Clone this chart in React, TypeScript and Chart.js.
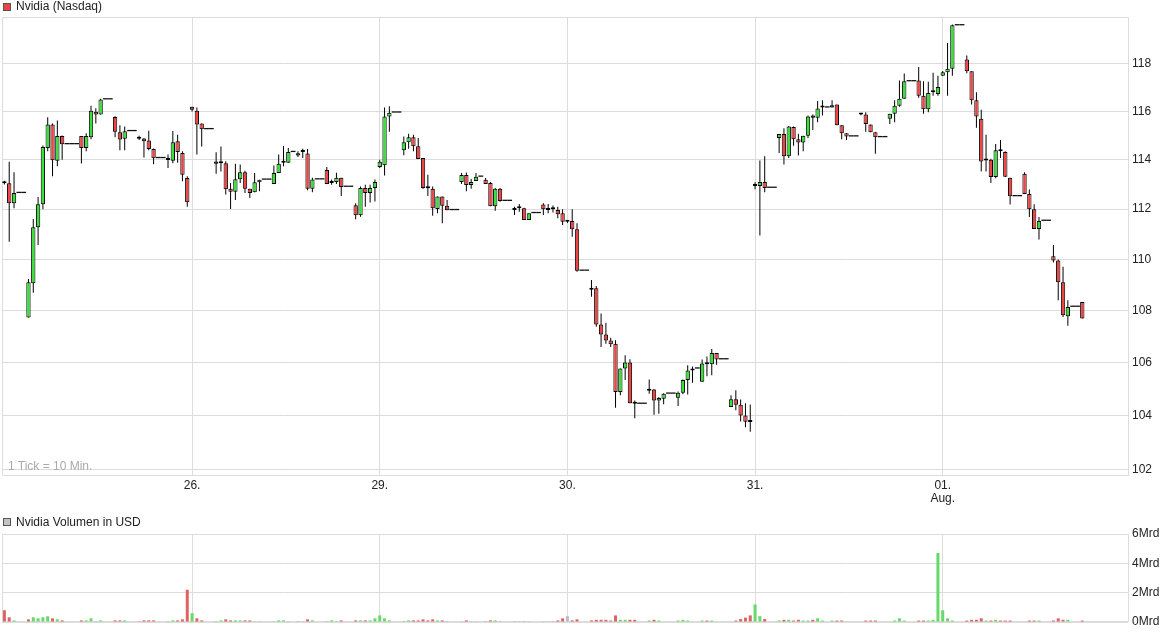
import React, { useEffect, useRef } from 'react';
import { Chart, registerables } from 'chart.js';

Chart.register(...registerables);

// ---------- data ----------
const dayNames = ['25.', '26.', '29.', '30.', '31.', '01.'];
const monthMarks = ['', '', '', '', '', 'Aug.'];
const ticksPerDay = 39; // 10-minute ticks per session

const openP = [
  113.05,113.05,112.24,112.65,112.65,107.73,109.06,111.28,112.2,114.49,
  115.46,113.96,114.98,114.64,114.64,114.64,114.98,114.49,114.93,115.99,
  115.87,116.5,116.5,115.77,115.14,114.87,115.18,115.18,114.87,114.88,
  114.8,114.45,114.07,114.07,114.0,113.96,114.76,114.28,113.26,116.2,
  116.03,115.5,115.26,115.26,113.93,113.86,113.86,112.82,112.7,113.21,
  113.5,112.82,112.68,113.09,113.19,113.19,113.02,113.46,113.88,113.88,
  114.32,114.18,114.32,114.26,112.82,113.2,113.2,113.59,113.06,113.1,
  113.27,112.9,112.9,112.16,111.76,112.86,112.65,112.86,113.71,113.78,
  115.79,115.95,115.95,114.39,114.72,114.93,114.56,114.08,112.85,112.82,
  112.01,112.51,112.14,111.96,111.96,113.1,113.38,112.98,113.14,113.31,
  113.19,113.06,112.12,112.82,112.33,112.33,111.97,112.04,112.04,111.57,
  111.84,111.84,112.19,111.97,112.0,111.97,111.84,111.5,111.53,111.2,
  109.55,109.55,108.81,108.87,107.46,107.07,106.84,106.72,104.89,105.77,
  106.0,104.44,104.44,104.44,104.93,104.98,104.57,104.63,104.82,104.82,
  104.67,104.86,105.34,105.7,105.77,105.27,105.94,105.94,106.36,106.12,
  106.12,104.32,104.61,104.41,104.0,103.76,113.02,112.94,113.1,112.86,
  112.86,114.9,115.06,114.15,115.35,114.85,114.71,114.99,115.83,115.74,
  116.16,116.16,116.16,116.29,115.43,115.1,114.96,114.96,115.87,115.87,
  115.46,115.14,114.93,114.93,115.7,115.9,116.24,116.53,117.26,117.26,
  117.3,116.66,116.09,116.8,116.73,117.5,117.64,117.79,119.64,119.64,
  118.18,117.69,116.47,115.7,113.97,114.01,113.3,114.35,114.32,113.27,
  112.52,112.52,113.43,112.61,112.0,111.21,111.53,111.53,110.12,109.96,
  109.1,107.78,108.14,108.14,108.33,
];

const highP = [
  113.15,113.92,113.5,112.65,112.65,109.23,111.61,112.49,114.59,115.76,
  115.5,115.62,115.0,114.64,114.64,114.64,114.98,115.1,116.24,116.13,
  116.53,116.5,116.5,115.8,115.43,115.37,115.18,115.18,114.99,114.9,
  115.2,114.47,114.07,114.07,114.22,115.19,115.03,114.35,113.33,116.2,
  116.16,115.5,115.26,115.26,114.31,114.55,113.94,113.06,113.84,113.81,
  113.56,112.82,113.46,113.19,113.19,113.19,113.77,114.22,114.57,114.49,
  114.32,114.35,114.46,114.45,113.27,113.2,113.2,113.71,113.2,113.47,
  113.27,112.9,112.9,112.24,112.92,112.99,112.99,113.2,114.01,116.16,
  116.22,115.95,115.95,114.96,115.07,115.03,114.9,114.08,113.39,112.92,
  112.51,112.51,112.37,111.96,111.96,113.46,113.48,113.22,113.46,113.31,
  113.26,113.1,112.86,112.86,112.33,112.33,112.1,112.21,112.06,111.84,
  111.84,111.84,112.24,112.21,112.15,112.1,112.0,111.55,112.0,111.44,
  109.55,109.55,109.19,108.95,107.88,107.53,106.95,106.85,105.77,106.28,
  106.13,104.57,104.44,104.44,105.36,105.0,104.7,104.84,104.82,104.82,
  104.9,105.36,105.9,105.85,105.77,106.12,106.23,106.52,106.36,106.12,
  106.12,104.76,104.95,104.6,104.46,104.42,113.09,113.97,114.15,112.86,
  112.86,115.06,115.3,115.4,115.37,115.07,114.99,115.83,115.87,116.44,
  116.47,116.16,116.47,116.29,115.43,115.1,114.96,114.96,115.92,115.97,
  115.46,115.14,114.93,114.93,115.9,116.47,117.3,117.59,117.26,117.26,
  117.87,117.26,117.24,117.62,117.5,117.7,118.89,119.68,119.64,119.64,
  118.35,117.69,116.8,116.07,115.03,114.05,114.65,114.82,114.35,113.27,
  112.52,112.52,113.5,112.79,112.2,111.69,111.53,111.53,110.57,110.0,
  109.71,108.4,108.14,108.14,108.33,
];

const lowP = [
  113.0,110.7,112.04,112.65,112.65,107.73,108.69,110.57,112.0,114.35,
  113.33,113.74,114.01,114.64,114.64,114.64,113.85,114.35,114.85,115.5,
  115.87,116.5,116.5,114.93,114.39,114.39,115.18,115.18,114.82,114.1,
  114.4,113.82,114.07,114.07,113.67,113.86,113.88,113.13,112.1,116.0,
  114.22,114.55,115.26,115.26,113.43,113.53,112.59,112.01,112.37,113.06,
  112.65,112.45,112.68,112.72,113.19,113.19,113.02,113.46,113.74,113.88,
  114.32,114.12,114.08,112.76,112.68,113.2,113.2,113.02,112.99,113.02,
  112.53,112.9,112.9,111.6,111.7,112.1,112.27,112.31,113.67,113.36,
  115.16,115.95,115.95,114.19,114.46,114.35,114.04,112.82,112.53,111.74,
  111.84,111.44,111.96,111.96,111.96,113.02,112.72,112.82,113.14,113.31,
  113.02,112.12,111.94,112.3,112.33,112.33,111.77,111.9,111.57,111.57,
  111.84,111.84,111.77,111.84,111.87,111.64,111.37,111.45,110.9,109.51,
  109.55,109.55,108.53,107.37,106.59,106.72,106.59,104.29,104.76,105.34,
  104.46,103.9,104.44,104.44,104.82,104.03,104.07,104.43,104.82,104.82,
  104.36,104.8,104.79,105.23,105.77,105.27,105.48,105.52,105.92,106.12,
  106.12,104.32,104.2,103.78,103.57,103.4,112.8,110.95,112.68,112.86,
  112.86,114.28,113.81,114.08,114.58,114.18,114.35,114.9,115.23,115.55,
  115.83,116.16,116.16,115.43,114.85,114.82,114.96,114.96,115.84,115.16,
  115.14,114.25,114.93,114.93,115.48,115.55,116.2,116.53,117.26,117.26,
  116.57,115.9,115.97,116.66,116.66,117.5,116.66,117.5,119.64,119.64,
  117.6,116.29,115.32,113.53,113.53,113.06,113.25,114.08,113.3,112.19,
  112.52,112.52,112.61,111.69,111.21,110.79,111.53,111.53,109.88,108.4,
  107.75,107.41,108.14,108.14,107.69,
];

const closeP = [
  113.05,112.24,112.65,112.65,112.65,109.1,111.28,112.2,114.53,115.46,
  113.98,114.98,114.64,114.64,114.64,114.64,114.49,114.98,116.03,115.87,
  116.5,116.5,116.5,115.16,114.84,115.18,115.18,115.18,114.87,114.76,
  114.45,114.07,114.07,114.07,114.0,114.72,114.32,113.39,112.28,116.07,
  115.46,115.26,115.26,115.26,113.84,113.86,112.8,112.7,113.21,113.5,
  112.82,112.65,113.09,113.19,113.19,113.19,113.46,113.84,113.88,114.32,
  114.32,114.27,114.32,112.82,113.2,113.2,113.2,113.02,113.14,113.27,
  112.9,112.9,112.9,111.76,112.86,112.65,112.86,113.1,113.92,115.79,
  115.95,115.95,115.95,114.72,114.93,114.56,114.04,112.86,112.85,112.04,
  112.51,112.14,111.96,111.96,111.96,113.38,112.98,113.1,113.31,113.31,
  113.02,112.12,112.82,112.33,112.33,112.33,111.97,112.04,111.57,111.84,
  111.84,111.84,112.0,112.04,112.0,111.8,111.5,111.5,111.2,109.55,
  109.55,109.55,108.81,107.46,107.07,106.84,106.7,104.89,105.77,106.0,
  104.46,104.44,104.44,104.44,105.01,104.57,104.66,104.82,104.82,104.82,
  104.86,105.34,105.7,105.77,105.77,105.96,105.94,106.36,106.12,106.12,
  106.12,104.61,104.41,104.0,103.77,103.76,112.94,113.1,112.86,112.86,
  112.86,115.06,114.15,115.37,114.85,114.71,114.99,115.79,115.74,116.12,
  116.16,116.16,116.26,115.43,115.1,114.96,114.96,114.96,115.87,115.48,
  115.14,114.93,114.93,114.93,115.9,116.24,116.53,117.26,117.26,117.26,
  116.66,116.09,116.77,116.8,117.02,117.64,117.79,119.64,119.64,119.64,
  117.69,116.47,115.79,113.93,113.97,113.3,114.39,114.35,113.31,112.52,
  112.52,112.52,112.61,112.0,111.21,111.53,111.53,111.53,109.96,109.1,
  107.82,108.14,108.14,108.14,107.69,
];

// volume in Mrd USD
const volumeMrd = [
  0.80,0.32,0.11,0,0,0.18,0.32,0.25,0.32,0.39,
  0.25,0.18,0.11,0,0,0,0.11,0.11,0.25,0.05,
  0.11,0,0,0.11,0.11,0.11,0,0,0.05,0.11,
  0.11,0.11,0,0,0.05,0.11,0.11,0.18,2.2,0.6,
  0.25,0.11,0,0,0.05,0.11,0.18,0.11,0.11,0.11,
  0.11,0.11,0.05,0.05,0,0,0.05,0.11,0.11,0.05,
  0,0.05,0.05,0.18,0.11,0,0,0.05,0.11,0.05,
  0.11,0,0,0.11,0.11,0.11,0.11,0.25,0.45,0.25,
  0.11,0,0,0.05,0.11,0.11,0.11,0.18,0.11,0.18,
  0.11,0.11,0.05,0,0,0.05,0.11,0.05,0.05,0,
  0.05,0.11,0.11,0.05,0,0,0.05,0.05,0.05,0.05,
  0,0,0.05,0.05,0.05,0.11,0.25,0.4,0.11,0.18,
  0,0,0.11,0.15,0.15,0.15,0.1,0.45,0.15,0.15,
  0.15,0.15,0,0,0.1,0.15,0.1,0.03,0,0,
  0.1,0.15,0.1,0.03,0,0.1,0.1,0.1,0.03,0,
  0,0.03,0.1,0.2,0.3,0.45,1.2,0.4,0.2,0,
  0,0.1,0.15,0.15,0.1,0.15,0.1,0.1,0.15,0.25,
  0.1,0,0.1,0.1,0.1,0.03,0,0,0.03,0.1,
  0.1,0.1,0,0,0.03,0.1,0.25,0.1,0,0,
  0.1,0.1,0.1,0.15,4.7,0.8,0.25,0.1,0,0,
  0.1,0.15,0.15,0.25,0.1,0.1,0.15,0.1,0.1,0.1,
  0,0,0.03,0.1,0.1,0.1,0,0,0.1,0.25,
  0.15,0.15,0,0,0.1,
];

const priceTicks = [102, 104, 106, 108, 110, 112, 114, 116, 118];
const priceMin = 101.77;
const priceMax = 120;
const volumeTicks = [0, 2, 4, 6];

// ---------- styles ----------
const FONT = "'Liberation Sans', Arial, Helvetica, sans-serif";
const GRID = '#dcdcdc';
const TEXT = '#222222';
const UP = '#38e038';
const DOWN = '#f04444';
const VOL_UP = '#66d966';
const VOL_DOWN = '#e06262';
const VOL_EQ = '#bdbdbd';
const CLEAR = 'rgba(0,0,0,0)';

// ---------- derived ----------
const nCat = dayNames.length * ticksPerDay;
const xLabels: (string | string[])[] = Array.from({ length: nCat }, (_, i) => {
  const d = Math.floor(i / ticksPerDay);
  if (i % ticksPerDay !== 0 || d === 0) return '';
  return monthMarks[d] ? [dayNames[d], monthMarks[d]] : dayNames[d];
});
const isDayStart = (i: number) => i > 0 && i % ticksPerDay === 0;
const nData = closeP.length;
const isFlat = (i: number) =>
  openP[i] === highP[i] && highP[i] === lowP[i] && lowP[i] === closeP[i];

const bodyData = xLabels.map((_, i) => (i < nData && !isFlat(i) ? [openP[i], closeP[i]] : null));
const bodyColors = xLabels.map((_, i) => {
  if (i >= nData) return '#000';
  if (closeP[i] > openP[i]) return UP;
  if (closeP[i] < openP[i]) return DOWN;
  return '#000';
});
const wickData = xLabels.map((_, i) => (i < nData && !isFlat(i) ? [lowP[i], highP[i]] : null));
const flatData = xLabels.map((_, i) => (i < nData && isFlat(i) ? [closeP[i], closeP[i]] : null));
const volData = xLabels.map((_, i) => (i < nData ? volumeMrd[i] : null));
const volColors = xLabels.map((_, i) => {
  if (i >= nData) return VOL_EQ;
  if (i === 0) return VOL_DOWN;
  if (closeP[i] > closeP[i - 1]) return VOL_UP;
  if (closeP[i] < closeP[i - 1]) return VOL_DOWN;
  return VOL_EQ;
});

const framePlugin = {
  id: 'frameBox',
  beforeDatasetsDraw(chart: any) {
    const { ctx, chartArea: a } = chart;
    ctx.save();
    ctx.strokeStyle = GRID;
    ctx.lineWidth = 1;
    ctx.beginPath();
    ctx.rect(Math.round(a.left) + 0.5, Math.round(a.top) + 0.5,
      Math.round(a.right) - Math.round(a.left), Math.round(a.bottom) - Math.round(a.top) - 1);
    ctx.stroke();
    ctx.restore();
  },
};

const tickFont = { family: FONT, size: 12, lineHeight: 1.1 };

function xScale(showLabels: boolean, height: number) {
  return {
    type: 'category',
    offset: true,
    grid: {
      offset: false,
      drawTicks: false,
      color: (ctx: any) => (isDayStart(ctx.index) ? GRID : CLEAR),
      lineWidth: 1,
    },
    border: { display: false },
    ticks: {
      display: showLabels,
      autoSkip: false,
      maxRotation: 0,
      minRotation: 0,
      padding: 3,
      color: TEXT,
      font: tickFont,
    },
    afterFit: (s: any) => { s.height = height; },
  };
}

export default function App() {
  const priceRef = useRef<HTMLCanvasElement>(null);
  const volRef = useRef<HTMLCanvasElement>(null);

  useEffect(() => {
    const priceChart = new Chart(priceRef.current as HTMLCanvasElement, {
      type: 'bar',
      data: {
        labels: xLabels,
        datasets: [
          {
            label: 'Nvidia (Nasdaq)',
            data: bodyData as any,
            backgroundColor: bodyColors,
            borderColor: '#000',
            borderWidth: 1,
            borderSkipped: false,
            minBarLength: 2,
            barPercentage: 0.9,
            categoryPercentage: 1,
            grouped: false,
            inflateAmount: 0,
            order: 1,
          } as any,
          {
            label: 'flat',
            data: flatData as any,
            backgroundColor: '#111',
            borderWidth: 0,
            minBarLength: 1.3,
            barPercentage: 1,
            categoryPercentage: 1,
            grouped: false,
            inflateAmount: 0,
            order: 2,
          } as any,
          {
            label: 'wick',
            data: wickData as any,
            backgroundColor: '#000',
            borderWidth: 0,
            barThickness: 1,
            grouped: false,
            inflateAmount: 0,
            order: 3,
          } as any,
        ],
      },
      options: {
        animation: false,
        responsive: false,
        maintainAspectRatio: false,
        events: [],
        layout: { padding: { left: 2, top: 17, right: 0, bottom: 0 } },
        plugins: { legend: { display: false }, tooltip: { enabled: false } },
        scales: {
          x: xScale(true, 34) as any,
          y: {
            type: 'logarithmic',
            position: 'right',
            min: priceMin,
            max: priceMax,
            bounds: 'data',
            afterBuildTicks: (s: any) => { s.ticks = priceTicks.map((v) => ({ value: v })); },
            ticks: {
              callback: (v: any) => String(v),
              padding: 4,
              color: TEXT,
              font: tickFont,
            },
            grid: { color: GRID, drawTicks: false },
            border: { display: false },
            afterFit: (s: any) => { s.width = 47; },
          } as any,
        },
      },
      plugins: [framePlugin],
    });

    const volChart = new Chart(volRef.current as HTMLCanvasElement, {
      type: 'bar',
      data: {
        labels: xLabels,
        datasets: [
          {
            label: 'Nvidia Volumen in USD',
            data: volData as any,
            backgroundColor: volColors,
            borderWidth: 0,
            barPercentage: 0.62,
            categoryPercentage: 1,
            inflateAmount: 0,
          } as any,
        ],
      },
      options: {
        animation: false,
        responsive: false,
        maintainAspectRatio: false,
        events: [],
        layout: { padding: { left: 2, top: 24, right: 0, bottom: 0 } },
        plugins: { legend: { display: false }, tooltip: { enabled: false } },
        scales: {
          x: xScale(false, 11) as any,
          y: {
            type: 'linear',
            position: 'right',
            min: 0,
            max: 6,
            afterBuildTicks: (s: any) => { s.ticks = volumeTicks.map((v) => ({ value: v })); },
            ticks: {
              callback: (v: any) => `${v}Mrd`,
              padding: 4,
              color: TEXT,
              font: tickFont,
            },
            grid: { color: GRID, drawTicks: false },
            border: { display: false },
            afterFit: (s: any) => { s.width = 47; },
          } as any,
        },
      },
      plugins: [framePlugin],
    });

    return () => {
      priceChart.destroy();
      volChart.destroy();
    };
  }, []);

  const textStyle: React.CSSProperties = {
    position: 'absolute',
    fontFamily: FONT,
    fontSize: 12,
    lineHeight: '13px',
    color: TEXT,
    whiteSpace: 'nowrap',
  };
  const boxStyle: React.CSSProperties = {
    position: 'absolute',
    width: 8,
    height: 8,
    boxSizing: 'border-box',
    border: '1px solid #555',
  };

  return (
    <div
      style={{
        position: 'absolute',
        left: 0,
        top: 0,
        width: 1175,
        height: 633,
        background: '#fff',
        overflow: 'hidden',
      }}
    >
      <canvas ref={priceRef} width={1175} height={510} style={{ position: 'absolute', left: 0, top: 0, display: 'block' }} />
      <canvas ref={volRef} width={1175} height={123} style={{ position: 'absolute', left: 0, top: 510, display: 'block' }} />
      <div style={{ ...boxStyle, left: 3, top: 3, background: DOWN }} />
      <div style={{ ...textStyle, left: 16, top: 0 }}>Nvidia (Nasdaq)</div>
      <div style={{ ...textStyle, left: 8, top: 459.5, color: '#aaaaaa' }}>1 Tick = 10 Min.</div>
      <div style={{ ...boxStyle, left: 3, top: 518, background: '#c4c4c4' }} />
      <div style={{ ...textStyle, left: 16, top: 515.5 }}>Nvidia Volumen in USD</div>
    </div>
  );
}
